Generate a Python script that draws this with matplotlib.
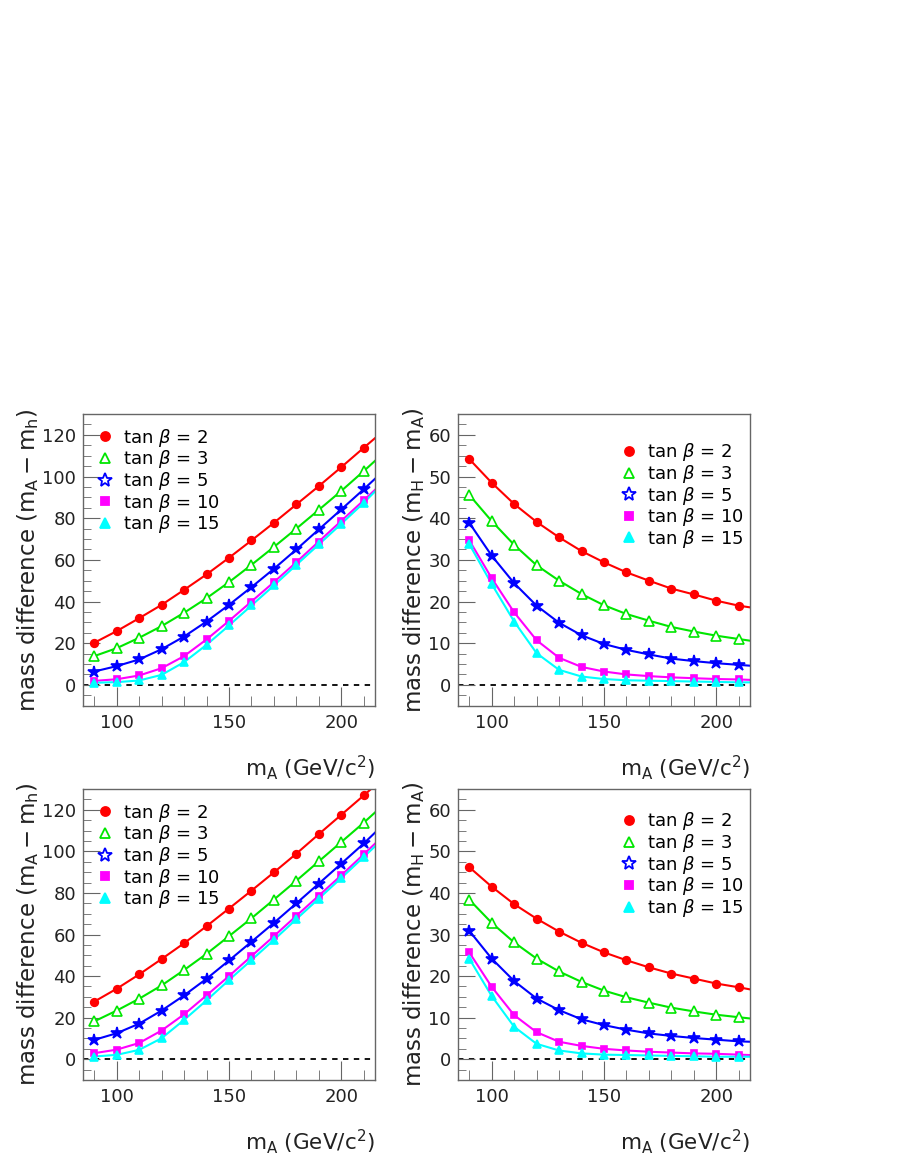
import numpy as np
import matplotlib
matplotlib.use('Agg')
import matplotlib.pyplot as plt
from matplotlib.lines import Line2D
from matplotlib.ticker import MultipleLocator

plt.rcParams['font.family'] = ['DejaVu Sans']
plt.rcParams['mathtext.fontset'] = 'dejavusans'

# m_A grid (GeV/c^2) and value at right frame edge (215)
mA = [90, 100, 110, 120, 130, 140, 150, 160, 170, 180, 190, 200, 210]
mA_edge = 215
tanb_labels = ['2', '3', '5', '10', '15']

# ---- top-left: m_A - m_h ----
tl_tb2 = [20.2, 25.8, 32.0, 38.4, 45.6, 53.0, 61.0, 69.3, 77.8, 86.6, 95.4, 104.5, 113.8]
tl_tb3 = [13.8, 17.6, 22.6, 28.2, 34.6, 41.6, 49.3, 57.6, 66.2, 75.0, 84.0, 93.1, 102.6]
tl_tb5 = [6.4, 9.0, 12.2, 17.1, 23.2, 30.4, 38.4, 46.9, 55.7, 65.0, 74.6, 84.2, 93.9]
tl_tb10 = [1.9, 2.7, 4.5, 8.0, 13.8, 21.8, 30.7, 40.0, 49.3, 58.9, 68.8, 78.7, 88.6]
tl_tb15 = [1.0, 1.3, 2.1, 4.8, 10.9, 19.2, 28.5, 38.1, 47.7, 57.6, 67.4, 77.3, 87.4]
tl_edge = [118.4, 107.5, 98.9, 93.6, 92.8]

# ---- top-right: m_H - m_A ----
tr_tb2 = [54.2, 48.5, 43.4, 39.1, 35.4, 32.1, 29.4, 27.0, 25.0, 23.1, 21.7, 20.2, 19.0]
tr_tb3 = [45.6, 39.3, 33.6, 28.7, 25.0, 21.8, 19.1, 17.0, 15.4, 13.9, 12.8, 11.8, 11.0]
tr_tb5 = [38.9, 31.0, 24.4, 19.0, 14.9, 11.9, 9.8, 8.4, 7.3, 6.3, 5.7, 5.2, 4.8]
tr_tb10 = [34.7, 25.6, 17.4, 10.7, 6.5, 4.3, 3.2, 2.5, 2.1, 1.8, 1.6, 1.4, 1.3]
tr_tb15 = [33.8, 24.2, 15.2, 7.6, 3.6, 2.0, 1.4, 1.1, 1.0, 0.9, 0.8, 0.7, 0.6]
tr_edge = [18.6, 10.6, 4.6, 1.2, 0.6]

# ---- bottom-left: m_A - m_h ----
bl_tb2 = [27.7, 33.9, 40.8, 48.2, 55.8, 64.0, 72.5, 81.1, 89.9, 98.9, 108.3, 117.6, 126.9]
bl_tb3 = [18.2, 23.4, 29.1, 35.5, 42.9, 50.7, 59.2, 67.8, 76.8, 85.9, 95.2, 104.5, 113.8]
bl_tb5 = [9.3, 12.5, 17.1, 23.4, 30.7, 38.7, 47.5, 56.5, 65.6, 75.0, 84.5, 94.1, 103.8]
bl_tb10 = [2.9, 4.6, 7.8, 13.8, 21.6, 30.7, 40.0, 49.6, 59.2, 69.0, 78.7, 88.5, 98.6]
bl_tb15 = [1.3, 2.1, 4.5, 10.1, 18.9, 28.3, 38.1, 47.7, 57.4, 67.4, 77.3, 87.2, 97.3]
bl_edge = [131.7, 118.7, 109.0, 103.7, 102.4]

# ---- bottom-right: m_H - m_A ----
br_tb2 = [46.2, 41.5, 37.3, 33.8, 30.7, 28.0, 25.7, 23.8, 22.1, 20.6, 19.4, 18.2, 17.3]
br_tb3 = [38.4, 32.8, 28.1, 24.2, 21.1, 18.6, 16.5, 14.9, 13.6, 12.4, 11.5, 10.7, 10.1]
br_tb5 = [30.9, 24.2, 18.8, 14.6, 11.8, 9.6, 8.2, 7.1, 6.2, 5.6, 5.1, 4.7, 4.3]
br_tb10 = [25.7, 17.4, 10.6, 6.5, 4.2, 3.2, 2.5, 2.1, 1.8, 1.6, 1.4, 1.3, 1.1]
br_tb15 = [24.2, 15.2, 7.8, 3.7, 2.1, 1.4, 1.1, 1.0, 0.9, 0.8, 0.7, 0.6, 0.6]
br_edge = [16.8, 9.8, 4.2, 1.0, 0.6]

colors = ['#ff0000', '#00e600', '#0000ff', '#ff00ff', '#00ffff']
markers = ['o', '^', '*', 's', '^']
filled_data = [True, False, True, True, True]
filled_leg = [True, False, False, True, True]
msizes = [5.5, 6.5, 9, 5, 5.5]

ylab_Ah = r'mass difference $\left(\mathregular{m_A - m_h}\right)$'
ylab_HA = r'mass difference $\left(\mathregular{m_H - m_A}\right)$'

panels = [
    dict(rect=[83, 414, 375, 705.7], series=[tl_tb2, tl_tb3, tl_tb5, tl_tb10, tl_tb15], edge=tl_edge,
         ylim=(-10, 130), ymaj=20, ymin=5, ylab=ylab_Ah, leg=(-0.005, 1.0)),
    dict(rect=[458, 414, 750, 705.7], series=[tr_tb2, tr_tb3, tr_tb5, tr_tb10, tr_tb15], edge=tr_edge,
         ylim=(-5, 65), ymaj=10, ymin=2.5, ylab=ylab_HA, leg=(0.505, 0.95)),
    dict(rect=[83, 789, 375, 1080], series=[bl_tb2, bl_tb3, bl_tb5, bl_tb10, bl_tb15], edge=bl_edge,
         ylim=(-10, 130), ymaj=20, ymin=5, ylab=ylab_Ah, leg=(-0.005, 1.0)),
    dict(rect=[458, 789, 750, 1080], series=[br_tb2, br_tb3, br_tb5, br_tb10, br_tb15], edge=br_edge,
         ylim=(-5, 65), ymaj=10, ymin=2.5, ylab=ylab_HA, leg=(0.505, 0.97)),
]

W, H = 900, 1164
fig = plt.figure(figsize=(W / 100, H / 100), dpi=100)

for p in panels:
    x0, y0, x1, y1 = p['rect']
    ax = fig.add_axes([x0 / W, 1 - y1 / H, (x1 - x0) / W, (y1 - y0) / H])
    ax.set_xlim(85, 215)
    ax.set_ylim(*p['ylim'])
    ax.axhline(0, color='black', lw=1.3, ls=(0, (3, 3)), zorder=1)
    handles = []
    for i, ys in enumerate(p['series']):
        c = colors[i]
        ax.plot(mA + [mA_edge], ys + [p['edge'][i]], color=c, lw=1.5, zorder=2)
        fc = c if filled_data[i] else 'white'
        ax.plot(mA, ys, ls='none', marker=markers[i], ms=msizes[i], mfc=fc, mec=c, mew=1.2, zorder=3)
        fcl = c if filled_leg[i] else 'white'
        handles.append(Line2D([], [], ls='none', marker=markers[i], ms=msizes[i] + 1, mfc=fcl, mec=c, mew=1.3,
                              label=r'tan $\beta$ = ' + tanb_labels[i]))
    ax.legend(handles=handles, loc='upper left', bbox_to_anchor=p['leg'], frameon=False,
              fontsize=13, handletextpad=0.4, labelspacing=-0.02, borderaxespad=0.3, handlelength=1.2)
    ax.xaxis.set_major_locator(MultipleLocator(50))
    ax.xaxis.set_minor_locator(MultipleLocator(10))
    ax.yaxis.set_major_locator(MultipleLocator(p['ymaj']))
    ax.yaxis.set_minor_locator(MultipleLocator(p['ymin']))
    ax.tick_params(which='both', direction='in', color='#666666', labelsize=13, labelcolor='#222222',
                   top=False, right=False)
    ax.tick_params(axis='x', which='major', length=14, pad=6)
    ax.tick_params(axis='x', which='minor', length=7)
    ax.tick_params(axis='y', which='major', length=12, pad=5)
    ax.tick_params(axis='y', which='minor', length=6)
    for s in ax.spines.values():
        s.set_color('#666666')
        s.set_linewidth(1.0)
    ax.set_ylabel(p['ylab'], fontsize=16.5, color='#222222', labelpad=1)
    ax.set_xlabel(r'$\mathregular{m_A}$ (GeV/c$^{2}$)', fontsize=15.5, color='#222222', loc='right', labelpad=15)

fig.savefig('out.png', dpi=100)
